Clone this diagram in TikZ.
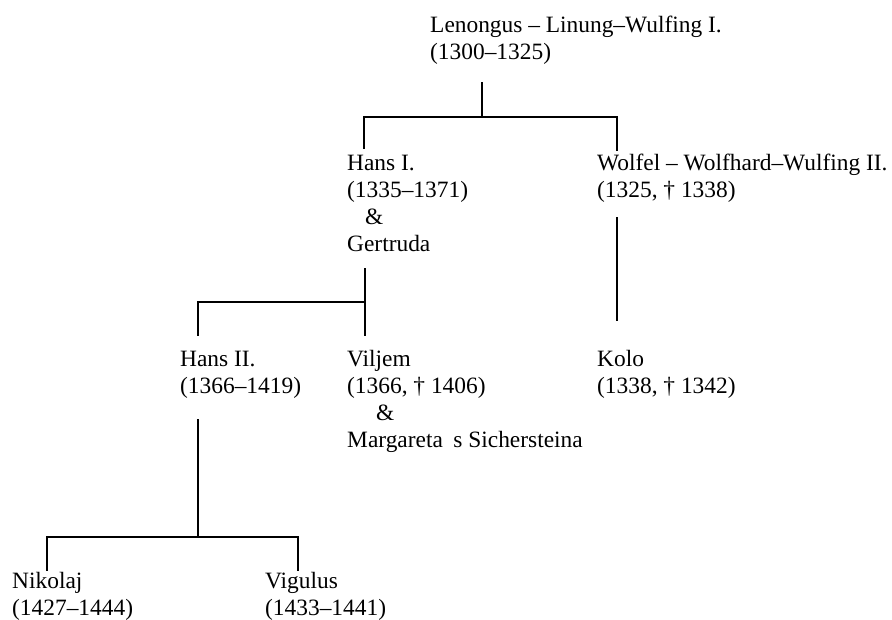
\documentclass[tikz,border=0pt]{standalone}
\usepackage{fontspec}
\setmainfont{Liberation Serif}
\begin{document}
\begin{tikzpicture}[x=1pt,y=-1pt,
  person/.style={anchor=base west,inner sep=0pt,align=left,font=\fontsize{23.4}{27}\selectfont},
  link/.style={line width=1.7pt,line cap=rect}]
\useasboundingbox (0,0) rectangle (892,619);
% people (positioned at the baseline of their last line)
\node[person] (top) at (430,59) {Lenongus – Linung–Wulfing I.\\(1300–1325)};
\node[person] (hans1) at (347,251) {Hans I.\\(1335–1371)\\\hspace*{18pt}\&\\Gertruda};
\node[person] (wolfel) at (597,197) {Wolfel – Wolfhard–Wulfing II.\\(1325, † 1338)};
\node[person] (hans2) at (180,393) {Hans II.\\(1366–1419)};
\node[person] (viljem) at (347,447) {Viljem\\(1366, † 1406)\\\hspace*{29pt}\&\\Margareta\hspace{0.2em} s Sichersteina};
\node[person] (kolo) at (597,393) {Kolo\\(1338, † 1342)};
\node[person] (nikolaj) at (12,615) {Nikolaj\\(1427–1444)};
\node[person] (vigulus) at (265,615) {Vigulus\\(1433–1441)};
% junctions
\coordinate (t0) at (482,83);
\coordinate (t1) at (482,117);
\coordinate (hl) at (364,117);
\coordinate (hr) at (617,117);
\coordinate (h1top) at (364,148);
\coordinate (w1top) at (617,150);
\coordinate (w0) at (617,218);
\coordinate (k1) at (617,320);
\coordinate (g0) at (365,269);
\coordinate (g1) at (365,302);
\coordinate (gl) at (198,302);
\coordinate (v1top) at (365,335);
\coordinate (h2top) at (198,335);
\coordinate (h0) at (198,420);
\coordinate (h1) at (198,537);
\coordinate (nl) at (47,537);
\coordinate (nr) at (298,537);
\coordinate (ntop) at (47,570);
\coordinate (vtop) at (298,570);
% connectors
\draw[link] (t0) -- (t1);
\draw[link] (h1top) -- (hl) -- (hr) -- (w1top);
\draw[link] (w0) -- (k1);
\draw[link] (g0) -- (v1top);
\draw[link] (g1) -- (gl) -- (h2top);
\draw[link] (h0) -- (h1);
\draw[link] (ntop) -- (nl) -- (nr) -- (vtop);
\end{tikzpicture}
\end{document}
